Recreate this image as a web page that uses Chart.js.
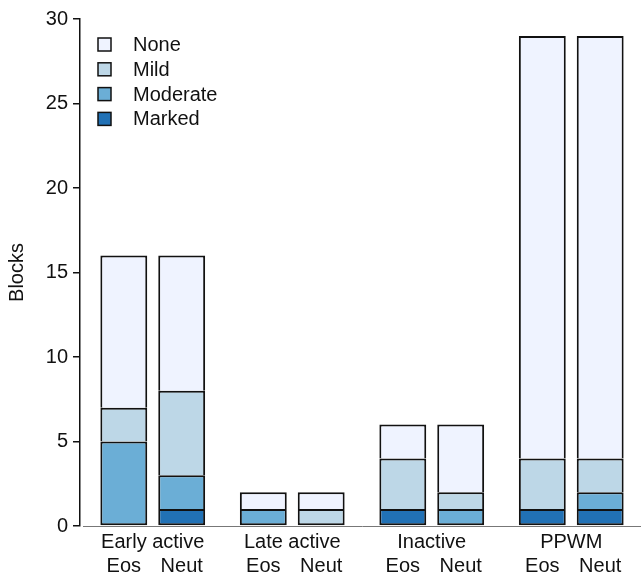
<!DOCTYPE html>
<html>
<head>
<meta charset="utf-8">
<script src="https://cdn.jsdelivr.net/npm/chart.js@4"></script>
<style>
  body { margin: 0; background: #fff; }
  #wrap { width: 641px; height: 576px; }
</style>
</head>
<body>
<div id="wrap"><canvas id="blocksChart" width="641" height="576"></canvas></div>
<script>
// Data
const groups = ["Early active", "Late active", "Inactive", "PPWM"];
const cells = ["Eos", "Neut"];
const severities = ["Marked", "Moderate", "Mild", "None"];   // bottom to top
const colours = ["#2171b5", "#6baed6", "#bdd7e7", "#eff3ff"];

const eosMarked = [0, 0, 1, 1];
const eosModerate = [5, 1, 0, 0];
const eosMild = [2, 0, 3, 3];
const eosNone = [9, 1, 2, 25];

const neutMarked = [1, 0, 0, 1];
const neutModerate = [2, 0, 1, 1];
const neutMild = [5, 1, 1, 2];
const neutNone = [8, 1, 4, 25];

const yTicks = [0, 5, 10, 15, 20, 25, 30];

const font = "Liberation Sans, Arial, sans-serif";
const seriesByCell = {
  Eos: [eosMarked, eosModerate, eosMild, eosNone],
  Neut: [neutMarked, neutModerate, neutMild, neutNone]
};

// only the lowest non-empty segment of a bar gets a bottom edge
function isLowest(cell, sev, i) {
  for (let k = 0; k < sev; k++) {
    if (seriesByCell[cell][k][i] > 0) return false;
  }
  return true;
}

let datasets = [];
cells.forEach(cell => {
  severities.forEach((sev, s) => {
    datasets.push({
      label: sev,
      data: seriesByCell[cell][s],
      stack: cell,
      yAxisID: "y",
      backgroundColor: colours[s],
      borderColor: "#111",
      borderSkipped: false,
      borderWidth: ctx => ({ top: 2, left: 2, right: 2, bottom: isLowest(cell, s, ctx.dataIndex) ? 2 : 0 }),
      categoryPercentage: 0.83,
      barPercentage: 0.81
    });
  });
});

// Eos / Neut under every bar
const cellLabels = {
  id: "cellLabels",
  afterDraw(chart) {
    const c = chart.ctx;
    c.save();
    c.font = "20px " + font;
    c.fillStyle = "#111";
    c.textAlign = "center";
    c.textBaseline = "middle";
    [0, 4].forEach((d, n) => {
      chart.getDatasetMeta(d).data.forEach(bar => {
        c.fillText(cells[n], bar.x, 566);
      });
    });
    c.restore();
  }
};

// legend box in the top left of the plot
const boxLegend = {
  id: "boxLegend",
  afterDraw(chart) {
    const c = chart.ctx;
    c.save();
    c.font = "20px " + font;
    c.textBaseline = "middle";
    for (let i = 0; i < 4; i++) {
      const s = 3 - i;
      const y = 44.5 + i * 24.8;
      c.fillStyle = colours[s];
      c.fillRect(98, y - 6.5, 13, 13);
      c.strokeStyle = "#111";
      c.lineWidth = 1.5;
      c.strokeRect(98, y - 6.5, 13, 13);
      c.fillStyle = "#111";
      c.fillText(severities[s], 133, y + 1);
    }
    c.restore();
  }
};

new Chart(document.getElementById("blocksChart"), {
  type: "bar",
  data: { labels: groups, datasets: datasets },
  plugins: [cellLabels, boxLegend],
  options: {
    responsive: false,
    animation: false,
    layout: { padding: { top: 19, right: 0, left: 0, bottom: 0 } },
    plugins: {
      legend: { display: false },
      tooltip: { enabled: false }
    },
    scales: {
      x: {
        stacked: true,
        grid: { display: false },
        border: { display: true, color: "#777", width: 1 },
        ticks: { color: "#111", font: { family: font, size: 20 }, padding: -4, maxRotation: 0 },
        afterFit: axis => { axis.height = 50; }
      },
      y: {
        stacked: true,
        weight: 1,
        min: 0,
        max: 30,
        afterBuildTicks: axis => { axis.ticks = yTicks.map(v => ({ value: v })); },
        grid: { drawOnChartArea: false, drawTicks: true, tickLength: 7, color: "#111", lineWidth: 1.5 },
        border: { display: true, color: "#111", width: 1.5 },
        ticks: { color: "#111", font: { family: font, size: 20 }, padding: 5 },
        title: { display: true, text: "Blocks", color: "#111", font: { family: font, size: 20 }, padding: 5 },
        afterFit: axis => { axis.width = 80; }
      },
      // small empty strip between the axis line and the first bar
      gap: {
        type: "linear",
        position: "left",
        weight: 0,
        grid: { display: false },
        border: { display: false },
        ticks: { display: false },
        afterFit: axis => { axis.width = 3; }
      }
    }
  }
});
</script>
</body>
</html>
